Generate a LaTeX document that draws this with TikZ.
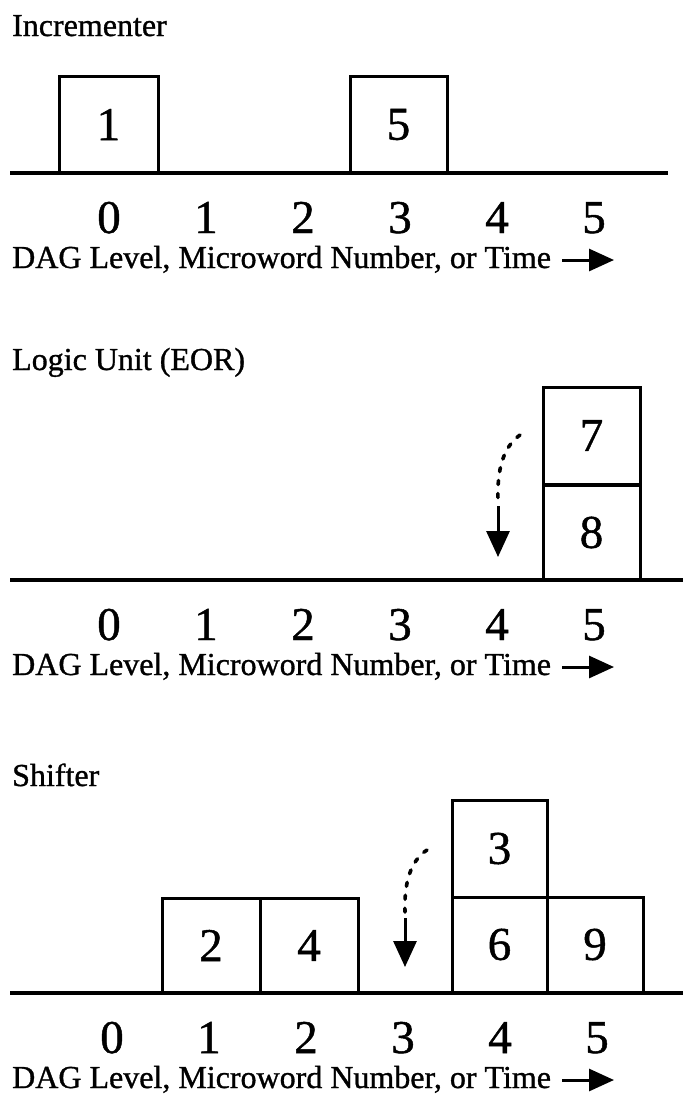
\documentclass[tikz,border=0pt]{standalone}
\usepackage{fontspec}
\setmainfont{Liberation Serif}
\newfontfamily\inkfont[FakeBold=1.0]{Liberation Serif}
\usetikzlibrary{arrows.meta}
\tikzset{
  ttl/.style={font=\inkfont\fontsize{32}{37}\selectfont, anchor=base west, inner sep=0pt},
  dig/.style={font=\inkfont\fontsize{47}{54}\selectfont, anchor=base, inner sep=0pt},
  cell/.style={draw, line width=3pt, minimum width=97pt, minimum height=97pt, inner sep=0pt, font=\inkfont\fontsize{47}{54}\selectfont},
  axis/.style={line width=3.2pt},
  timearrow/.style={line width=3pt, -{Triangle[length=25pt,width=22pt]}},
  moveshaft/.style={line width=3pt, -{Triangle[length=26pt,width=23pt]}},
  movedots/.style={line width=3.6pt, line cap=round, dash pattern=on 4pt off 9pt},
}
\begin{document}
\begin{tikzpicture}[x=1pt,y=-1pt]
\useasboundingbox (0,0) rectangle (683,1104);
% ---------- Panel 1 ----------
\node[ttl] (t1) at (12,36) {Incrementer};
\node[cell, minimum width=99pt] (b1) at (108.5,124.5) {1};
\node[cell] (b5) at (398.5,124.5) {5};
\coordinate (a1l) at (10,173);
\coordinate (a1r) at (668,173);
\draw[axis] (a1l) -- (a1r);
\foreach \k in {0,...,5} {\node[dig] (p1d\k) at (109+97*\k,233) {\k};}
\node[ttl] (c1) at (12,268) {DAG Level, Microword Number, or Time};
\coordinate (c1a) at (562,260);
\coordinate (c1b) at (614,260);
\draw[timearrow] (c1a) -- (c1b);
% ---------- Panel 2 ----------
\node[ttl] (t2) at (12,370) {Logic Unit (EOR)};
\node[cell] (b7) at (591.5,435.5) {7};
\node[cell, minimum height=95pt] (b8) at (591.5,532.5) {8};
\coordinate (a2l) at (10,580);
\coordinate (a2r) at (683,580);
\draw[axis] (a2l) -- (a2r);
\coordinate (m2s) at (520,435);
\coordinate (m2m) at (498,500);
\coordinate (m2n) at (498,506);
\coordinate (m2e) at (498,557);
\draw[movedots] (m2s) .. controls (503,447) and (497,470) .. (m2m);
\draw[moveshaft] (m2n) -- (m2e);
\foreach \k in {0,...,5} {\node[dig] (p2d\k) at (109+97*\k,640) {\k};}
\node[ttl] (c2) at (12,675) {DAG Level, Microword Number, or Time};
\coordinate (c2a) at (562,667);
\coordinate (c2b) at (614,667);
\draw[timearrow] (c2a) -- (c2b);
% ---------- Panel 3 ----------
\node[ttl] (t3) at (12,786) {Shifter};
\node[cell, minimum width=95pt] (b3) at (499.5,848.5) {3};
\node[cell, minimum width=95pt, minimum height=95pt] (b6) at (499.5,944.5) {6};
\node[cell, minimum width=96pt, minimum height=95pt] (b9) at (595,944.5) {9};
\node[cell, minimum width=98pt, minimum height=95pt] (b2) at (211,945.5) {2};
\node[cell, minimum width=98pt, minimum height=95pt] (b4) at (309,945.5) {4};
\coordinate (a3l) at (10,993);
\coordinate (a3r) at (683,993);
\draw[axis] (a3l) -- (a3r);
\coordinate (m3s) at (427,850);
\coordinate (m3m) at (405,912);
\coordinate (m3n) at (405,918);
\coordinate (m3e) at (405,967);
\draw[movedots] (m3s) .. controls (410,861) and (404,884) .. (m3m);
\draw[moveshaft] (m3n) -- (m3e);
\foreach \k in {0,...,5} {\node[dig] (p3d\k) at (112+97*\k,1053) {\k};}
\node[ttl] (c3) at (12,1088) {DAG Level, Microword Number, or Time};
\coordinate (c3a) at (562,1080);
\coordinate (c3b) at (614,1080);
\draw[timearrow] (c3a) -- (c3b);
\end{tikzpicture}
\end{document}
